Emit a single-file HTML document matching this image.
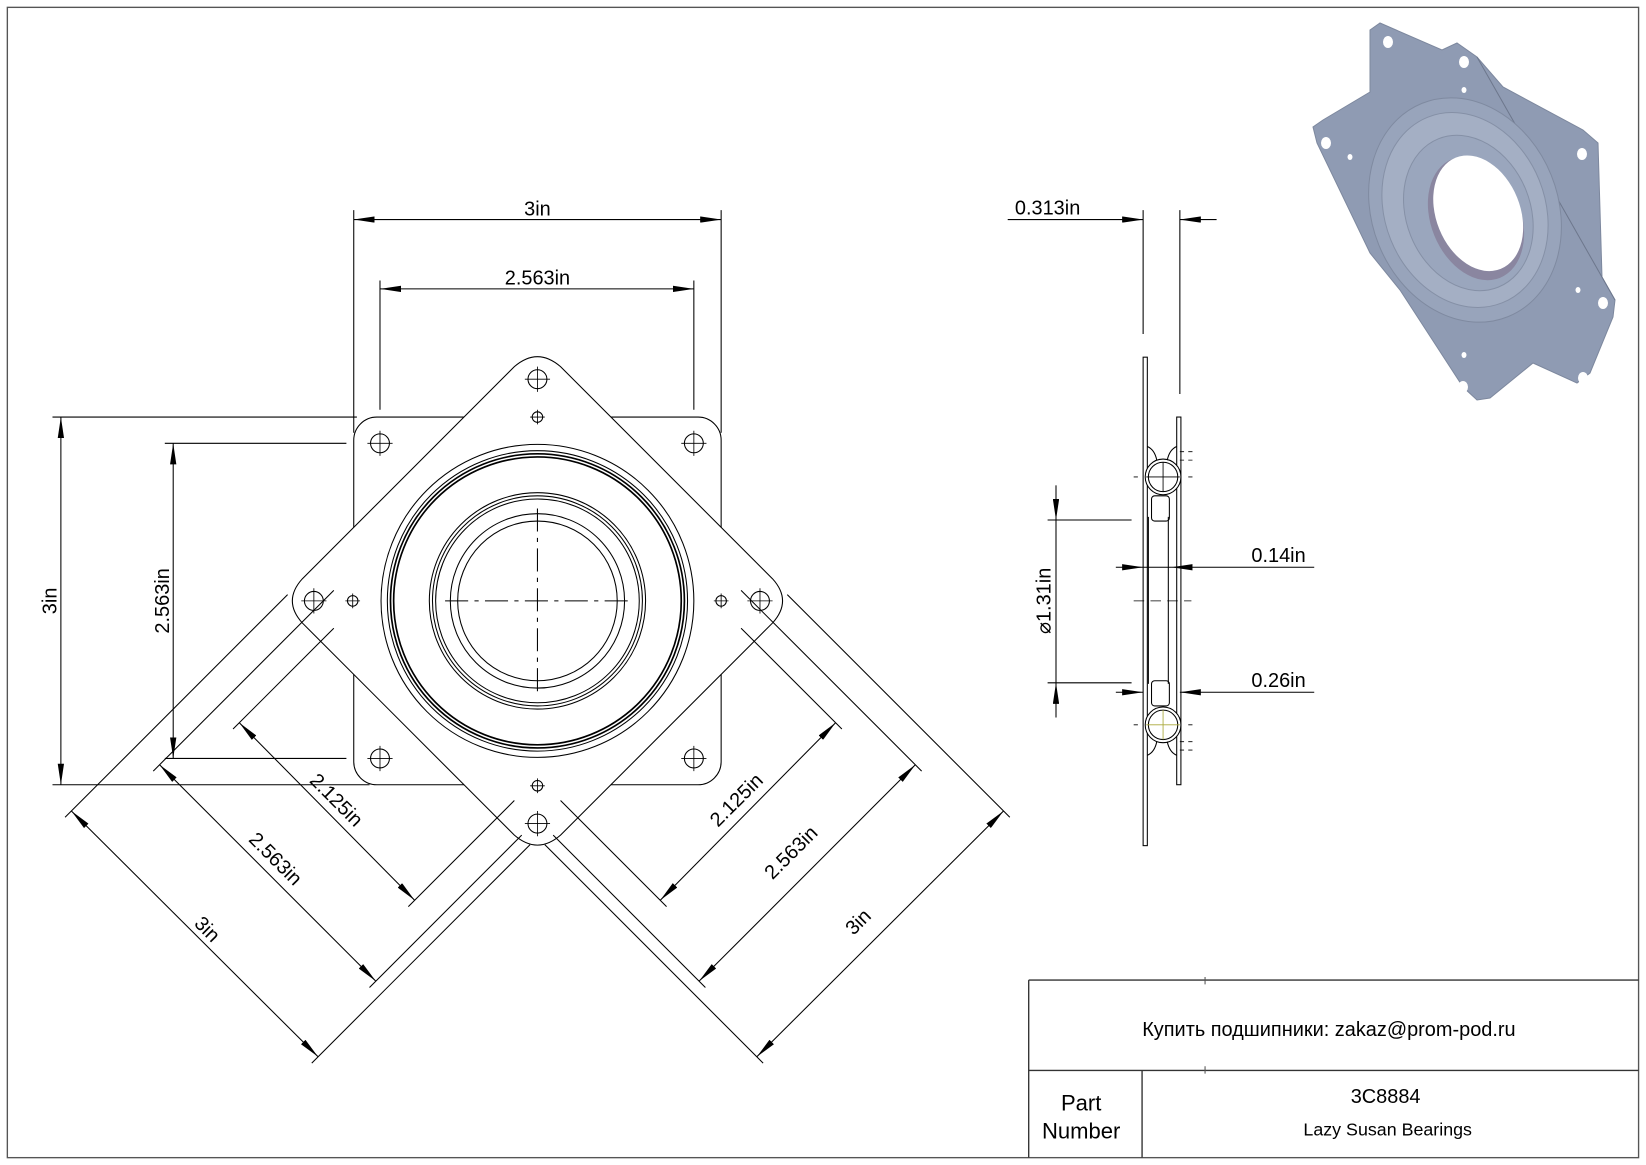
<!DOCTYPE html>
<html><head><meta charset="utf-8"><style>
html,body{margin:0;padding:0;background:#fff;}
svg{display:block;}
text{font-family:"Liberation Sans",sans-serif;fill:#000;}
</style></head><body>
<svg width="1646" height="1165" viewBox="0 0 1646 1165" xmlns="http://www.w3.org/2000/svg">
<defs>
<marker id="ar" viewBox="0 0 20 6" refX="20" refY="3" markerWidth="20" markerHeight="6" markerUnits="userSpaceOnUse" orient="auto-start-reverse">
<path d="M0,0 L20,3 L0,6 z" fill="#000"/>
</marker>
</defs>
<!-- 3D view in actual coords -->
<polygon points="1370,30 1380,23 1442,50 1457,43 1477,57 1503,87 1583,130 1598,143 1602,277 1615,300 1613,317 1590,373 1577,383 1533,363 1490,398 1477,400 1463,387 1400,290 1370,253 1317,143 1313,127 1323,120 1370,92" fill="#8f9bb3" stroke="#7d889e" stroke-width="1"/>
<line x1="1477" y1="57" x2="1615" y2="300" stroke="#6d778c" stroke-width="1"/>
<g transform="rotate(-22 1465 210)">
<ellipse cx="1465" cy="210" rx="93" ry="115" fill="#98a4bb" stroke="#7f8aa0"/>
<ellipse cx="1465" cy="210" rx="80" ry="100" fill="#a4afc4" stroke="#8590a6"/>
<ellipse cx="1467" cy="214" rx="62" ry="80" fill="#9aa6bd" stroke="#8590a6"/>
<ellipse cx="1472" cy="222" rx="45" ry="64" fill="#8a86a0"/>
<ellipse cx="1476" cy="218" rx="42" ry="60" fill="#fff"/>
</g>
<g fill="#fff">
<ellipse cx="1388" cy="42" rx="5" ry="6"/><ellipse cx="1464" cy="62" rx="5" ry="6"/><ellipse cx="1464" cy="90" rx="2.5" ry="3"/>
<ellipse cx="1326" cy="143" rx="5" ry="6"/><ellipse cx="1350" cy="157" rx="2.5" ry="3"/>
<ellipse cx="1582" cy="154" rx="5" ry="6"/><ellipse cx="1578" cy="290" rx="2.5" ry="3"/><ellipse cx="1603" cy="303" rx="5" ry="6"/>
<ellipse cx="1464" cy="355" rx="2.5" ry="3"/><ellipse cx="1463" cy="387" rx="5" ry="6"/><ellipse cx="1583" cy="378" rx="5" ry="6"/>
</g>
<g transform="scale(1.0497,1.0505)" stroke="#000" fill="none" stroke-width="1">
<!-- border -->
<rect x="7" y="7" width="1554" height="1095" stroke="#555" stroke-width="1.3"/>
<!-- title block -->
<path d="M980,933 H1561 M980,1019 H1561 M980,933 V1102 M1088,1019 V1102" stroke="#333" stroke-width="1.3"/>
<path d="M1148,930 V937 M1148,1015 V1022" stroke="#555"/>
<g stroke="none">
<text x="1266" y="986" font-size="19" text-anchor="middle" font-family="DejaVu Sans, sans-serif">Купить подшипники: zakaz@prom-pod.ru</text>
<text x="1030" y="1057" font-size="21" text-anchor="middle">Part</text>
<text x="1030" y="1084" font-size="21" text-anchor="middle">Number</text>
<text x="1320" y="1050" font-size="19" text-anchor="middle">3C8884</text>
<text x="1322" y="1081" font-size="17" text-anchor="middle">Lazy Susan Bearings</text>
</g>
<!-- main view -->
<rect x="337" y="397" width="350" height="350" rx="22"/>
<path d="M490,349 Q512,330 534,349 L736,551 Q755,572 736,593 L534,795 Q512,814 490,795 L288,593 Q269,572 288,551 Z" fill="#fff"/>
<circle cx="512" cy="572" r="149"/>
<circle cx="512" cy="572" r="143"/>
<circle cx="512" cy="572" r="140" stroke-width="1.6"/>
<circle cx="512" cy="572" r="137" stroke-width="1.6"/>
<circle cx="512" cy="572" r="103"/>
<circle cx="512" cy="572" r="100"/>
<circle cx="512" cy="572" r="97"/>
<circle cx="512" cy="572" r="83"/>
<circle cx="512" cy="572" r="76"/>
<path d="M424,572 H600 M512,484 V660" stroke-dasharray="22,6,4,6"/>
<g id="h">
<circle cx="362" cy="422" r="9"/><circle cx="661" cy="422" r="9"/><circle cx="362" cy="722" r="9"/><circle cx="661" cy="722" r="9"/>
<circle cx="512" cy="361" r="9"/><circle cx="512" cy="784" r="9"/><circle cx="299" cy="572" r="9"/><circle cx="724" cy="572" r="9"/>
<circle cx="512" cy="397" r="5"/><circle cx="512" cy="748" r="5"/><circle cx="336" cy="572" r="5"/><circle cx="687" cy="572" r="5"/>
</g>
<path d="M350,422h24M362,410v24M649,422h24M661,410v24M350,722h24M362,710v24M649,722h24M661,710v24M500,361h24M512,349v24M500,784h24M512,772v24M287,572h24M299,560v24M712,572h24M724,560v24M505,397h14M512,390v14M505,748h14M512,741v14M329,572h14M336,565v14M680,572h14M687,565v14" stroke-width="0.8"/>
<!-- top dims -->
<path d="M337,200 V412 M687,200 V412 M362,267 V390 M661,267 V390"/>
<line x1="337" y1="209" x2="687" y2="209" marker-start="url(#ar)" marker-end="url(#ar)"/>
<line x1="362" y1="275" x2="661" y2="275" marker-start="url(#ar)" marker-end="url(#ar)"/>
<!-- left dims -->
<path d="M50,397 H340 M50,747 H352 M157,422 H330 M157,722 H330"/>
<line x1="58" y1="397" x2="58" y2="747" marker-start="url(#ar)" marker-end="url(#ar)"/>
<line x1="165" y1="422" x2="165" y2="722" marker-start="url(#ar)" marker-end="url(#ar)"/>
<!-- diagonal left -->
<path d="M62,778 L274,566 M297,1012 L505,804 M146,734 L318,562 M352,940 L497,795 M222,694 L318,598 M389,863 L490,762"/>
<line x1="68" y1="772" x2="303" y2="1006" marker-start="url(#ar)" marker-end="url(#ar)"/>
<line x1="152" y1="728" x2="358" y2="934" marker-start="url(#ar)" marker-end="url(#ar)"/>
<line x1="228" y1="688" x2="395" y2="857" marker-start="url(#ar)" marker-end="url(#ar)"/>
<!-- diagonal right -->
<path d="M962,778 L750,566 M727,1012 L519,804 M878,734 L706,562 M672,940 L527,795 M802,694 L706,598 M635,863 L534,762"/>
<line x1="956" y1="772" x2="721" y2="1006" marker-start="url(#ar)" marker-end="url(#ar)"/>
<line x1="872" y1="728" x2="666" y2="934" marker-start="url(#ar)" marker-end="url(#ar)"/>
<line x1="796" y1="688" x2="629" y2="857" marker-start="url(#ar)" marker-end="url(#ar)"/>
<g stroke="none" font-size="19">
<text x="512" y="205" text-anchor="middle">3in</text>
<text x="512" y="271" text-anchor="middle">2.563in</text>
<text transform="translate(54,572) rotate(-90)" text-anchor="middle">3in</text>
<text transform="translate(161,572) rotate(-90)" text-anchor="middle">2.563in</text>
<text transform="translate(316,766) rotate(45)" text-anchor="middle">2.125in</text>
<text transform="translate(258,822) rotate(45)" text-anchor="middle">2.563in</text>
<text transform="translate(193,889) rotate(45)" text-anchor="middle">3in</text>
<text transform="translate(706,766) rotate(-45)" text-anchor="middle">2.125in</text>
<text transform="translate(758,816) rotate(-45)" text-anchor="middle">2.563in</text>
<text transform="translate(822,882) rotate(-45)" text-anchor="middle">3in</text>
</g>
<!-- side view -->
<rect x="1089" y="340" width="4" height="465"/>
<rect x="1121" y="397" width="4" height="350"/>
<path d="M1094,492 V651 M1113,492 V651"/>
<circle cx="1108" cy="454" r="17" fill="#fff"/>
<circle cx="1108" cy="454" r="14"/>
<circle cx="1108" cy="690" r="17" fill="#fff"/>
<circle cx="1108" cy="690" r="14"/>
<path d="M1093,425 Q1100,428 1102,438 M1121,425 Q1114,428 1112,438 M1093,719 Q1100,716 1102,706 M1121,719 Q1114,716 1112,706"/>
<rect x="1097" y="472" width="17" height="24" rx="3"/>
<rect x="1097" y="648" width="17" height="24" rx="3"/>
<path d="M1092,454h32M1108,440v28" stroke-width="0.8"/>
<path d="M1092,690h32M1108,676v28" stroke="#a9a838" stroke-width="0.8"/>
<path d="M1080,454h4M1132,454h4M1080,690h4M1132,690h4M1124,430h14M1124,438h14M1124,706h14M1124,714h14" stroke-dasharray="4,4" stroke-width="0.8"/>
<path d="M1080,572 H1135" stroke-dasharray="10,6" stroke-width="0.8"/>
<path d="M1089,200 V318 M1124,200 V375"/>
<line x1="960" y1="209" x2="1089" y2="209" marker-end="url(#ar)"/>
<line x1="1159" y1="209" x2="1124" y2="209" marker-end="url(#ar)"/>
<path d="M998,495 H1078 M998,650 H1078"/>
<line x1="1006" y1="462" x2="1006" y2="495" marker-end="url(#ar)"/>
<line x1="1006" y1="495" x2="1006" y2="650"/>
<line x1="1006" y1="683" x2="1006" y2="650" marker-end="url(#ar)"/>
<line x1="1063" y1="540" x2="1089" y2="540" marker-end="url(#ar)"/>
<line x1="1252" y1="540" x2="1116" y2="540" marker-end="url(#ar)"/>
<line x1="1063" y1="659" x2="1089" y2="659" marker-end="url(#ar)"/>
<line x1="1252" y1="659" x2="1124" y2="659" marker-end="url(#ar)"/>
<line x1="1089" y1="540" x2="1116" y2="540"/>
<g stroke="none" font-size="19">
<text x="998" y="204" text-anchor="middle">0.313in</text>
<text transform="translate(1001,572) rotate(-90)" text-anchor="middle">⌀1.31in</text>
<text x="1218" y="535" text-anchor="middle">0.14in</text>
<text x="1218" y="654" text-anchor="middle">0.26in</text>
</g>
</g>
</svg>
</body></html>
